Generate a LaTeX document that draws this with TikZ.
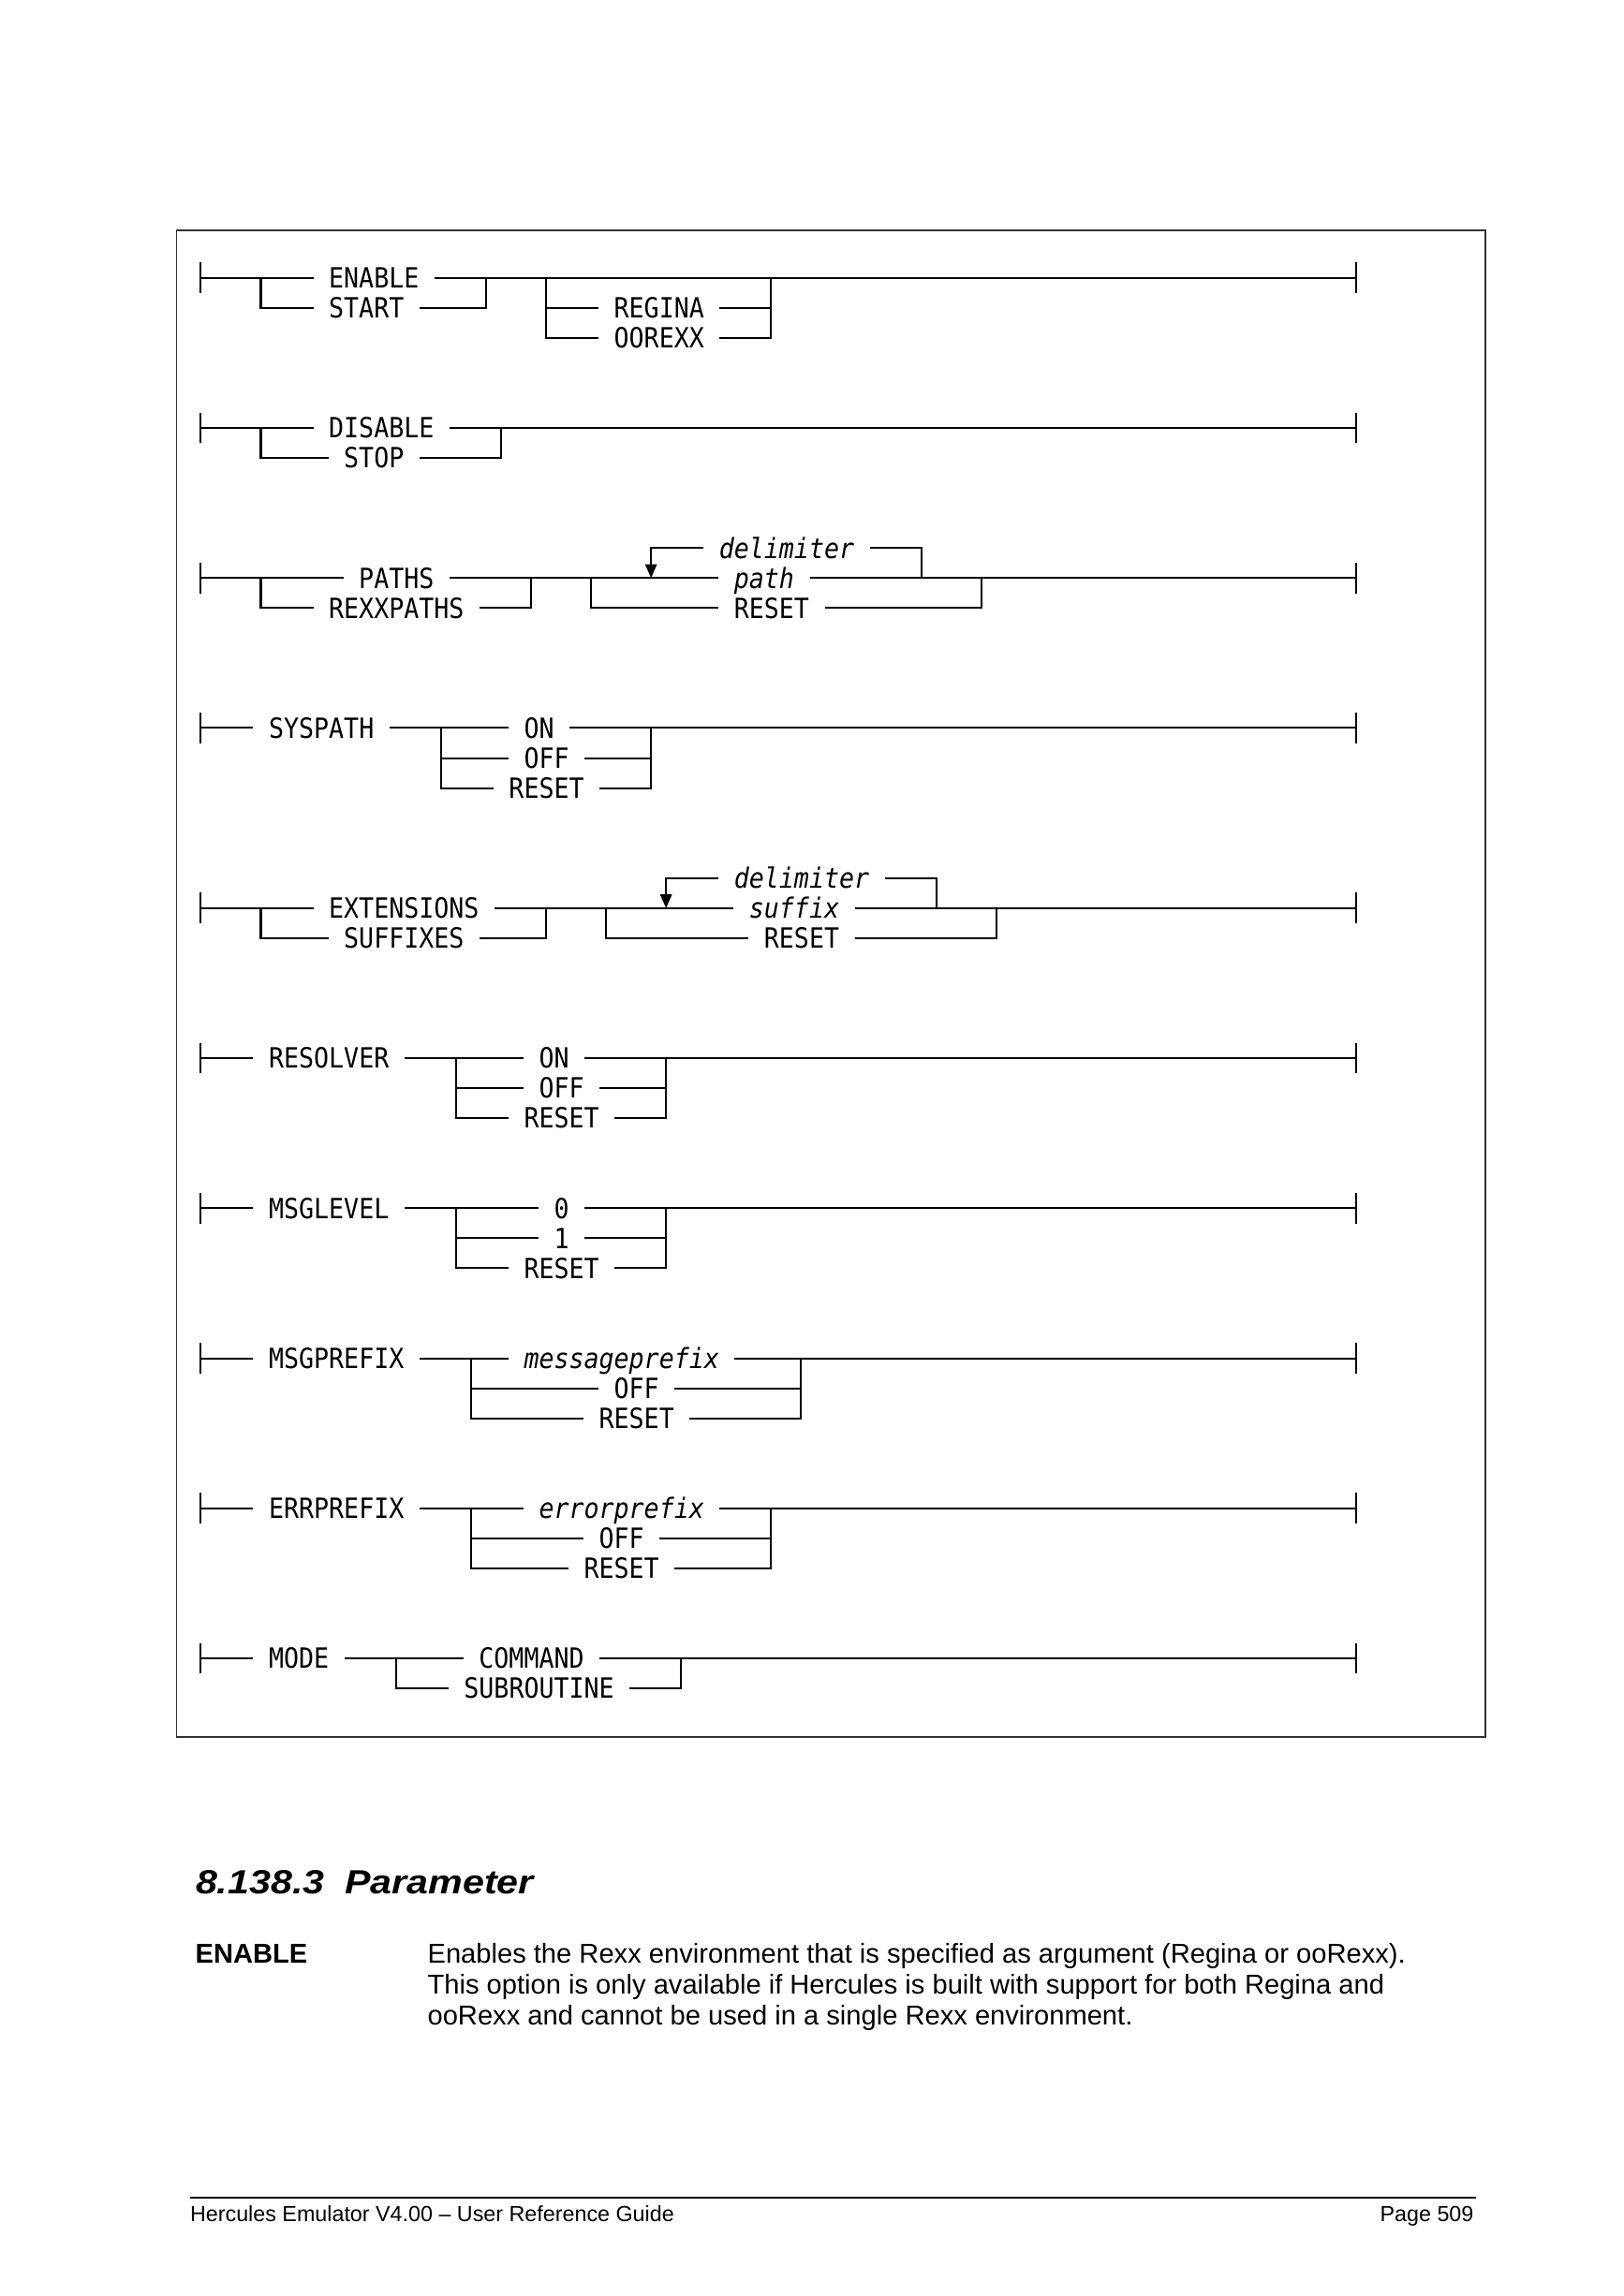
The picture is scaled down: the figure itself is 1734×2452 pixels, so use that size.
\documentclass[tikz,border=0pt]{standalone}
\usepackage{fontspec}
\setmainfont{Liberation Sans}
\newfontfamily\diagfont[FakeStretch=0.896]{DejaVu Sans Mono}
\newfontfamily\headfont[FakeStretch=1.15]{Liberation Sans}
\usetikzlibrary{arrows.meta}
\newcommand\cX[1]{{214.4+16.025*(#1)}}
\newcommand\rY[1]{{296.7+32.05*(#1)}}
\tikzset{
  rr/.style={line width=0.7pt, line join=miter},
  endtick/.style={line width=0.75pt},
  lbl/.style={font={\diagfont\fontsize{10.2pt}{12pt}\selectfont}, inner xsep=5.5014pt, inner ysep=0pt,
              text height=7.44pt, text depth=0pt, anchor=west},
  ilbl/.style={lbl, font={\diagfont\itshape\fontsize{10.2pt}{12pt}\selectfont}},
  loop/.style={rr, -{Triangle[length=5pt,width=4.2pt]}},
  frame/.style={line width=0.6pt, draw=black!80},
  bodytext/.style={font={\fontsize{10pt}{12pt}\selectfont}, inner sep=0pt, anchor=base west},
  foottext/.style={font={\fontsize{8pt}{10pt}\selectfont}, inner sep=0pt},
}
\newcommand\ticks[2]{%
  \draw[endtick] ([yshift=5.6pt]#1) -- ([yshift=-5.6pt]#1);
  \draw[endtick] ([yshift=5.6pt]#2) -- ([yshift=-5.6pt]#2);}
\begin{document}
\begin{tikzpicture}[x=0.3433pt, y=-0.3433pt]
\useasboundingbox (0,0) rectangle (1734,2452);
\fill[white] (0,0) rectangle (1734,2452);

% frame
\draw[frame] (188.5,245.7) rectangle (1585.7,1855);

% ---------- Row 1: ENABLE / START
\coordinate (s1) at (\cX{0},\rY{0});
\coordinate (e1) at (\cX{77},\rY{0});
\coordinate (j1a) at (\cX{4},\rY{0});
\coordinate (j1b) at (\cX{19},\rY{0});
\coordinate (j1c) at (\cX{23},\rY{0});
\coordinate (j1d) at (\cX{38},\rY{0});
\node[lbl] (enable) at (\cX{7.5},\rY{0}) {ENABLE};
\node[lbl] (start) at (\cX{7.5},\rY{1}) {START};
\node[lbl] (regina) at (\cX{26.5},\rY{1}) {REGINA};
\node[lbl] (oorexx) at (\cX{26.5},\rY{2}) {OOREXX};
\ticks{s1}{e1}
\draw[rr] (s1) -- (enable.west);
\draw[rr] (enable.east) -- (e1);
\draw[rr] (j1a) |- (start.west);
\draw[rr] (start.east) -| (j1b);
\draw[rr] (j1c) |- (regina.west);
\draw[rr] (j1c) |- (oorexx.west);
\draw[rr] (regina.east) -| (j1d);
\draw[rr] (oorexx.east) -| (j1d);

% ---------- Row 2: DISABLE / STOP
\coordinate (s2) at (\cX{0},\rY{5});
\coordinate (e2) at (\cX{77},\rY{5});
\coordinate (j2a) at (\cX{4},\rY{5});
\coordinate (j2b) at (\cX{20},\rY{5});
\node[lbl] (disable) at (\cX{7.5},\rY{5}) {DISABLE};
\node[lbl] (stop) at (\cX{8.5},\rY{6}) {STOP};
\ticks{s2}{e2}
\draw[rr] (s2) -- (disable.west);
\draw[rr] (disable.east) -- (e2);
\draw[rr] (j2a) |- (stop.west);
\draw[rr] (stop.east) -| (j2b);

% ---------- Row 3: PATHS
\coordinate (s3) at (\cX{0},\rY{10});
\coordinate (e3) at (\cX{77},\rY{10});
\coordinate (j3a) at (\cX{4},\rY{10});
\coordinate (j3b) at (\cX{22},\rY{10});
\coordinate (j3c) at (\cX{26},\rY{10});
\coordinate (a3) at (\cX{30},\rY{10});
\coordinate (j3d) at (\cX{48},\rY{10});
\coordinate (j3e) at (\cX{52},\rY{10});
\node[lbl] (paths) at (\cX{9.5},\rY{10}) {PATHS};
\node[lbl] (rexxpaths) at (\cX{7.5},\rY{11}) {REXXPATHS};
\node[ilbl] (path) at (\cX{34.5},\rY{10}) {path};
\node[lbl] (reset3) at (\cX{34.5},\rY{11}) {RESET};
\node[ilbl] (delim3) at (\cX{33.5},\rY{9}) {delimiter};
\ticks{s3}{e3}
\draw[rr] (s3) -- (paths.west);
\draw[rr] (paths.east) -- (path.west);
\draw[rr] (path.east) -- (e3);
\draw[rr] (j3a) |- (rexxpaths.west);
\draw[rr] (rexxpaths.east) -| (j3b);
\draw[rr] (j3c) |- (reset3.west);
\draw[rr] (reset3.east) -| (j3e);
\draw[rr] (j3d) |- (delim3.east);
\draw[loop] (delim3.west) -| (a3);

% ---------- Row 4: SYSPATH
\coordinate (s4) at (\cX{0},\rY{15});
\coordinate (e4) at (\cX{77},\rY{15});
\coordinate (j4a) at (\cX{16},\rY{15});
\coordinate (j4b) at (\cX{30},\rY{15});
\node[lbl] (syspath) at (\cX{3.5},\rY{15}) {SYSPATH};
\node[lbl] (on4) at (\cX{20.5},\rY{15}) {ON};
\node[lbl] (off4) at (\cX{20.5},\rY{16}) {OFF};
\node[lbl] (reset4) at (\cX{19.5},\rY{17}) {RESET};
\ticks{s4}{e4}
\draw[rr] (s4) -- (syspath.west);
\draw[rr] (syspath.east) -- (on4.west);
\draw[rr] (on4.east) -- (e4);
\draw[rr] (j4a) |- (off4.west);
\draw[rr] (j4a) |- (reset4.west);
\draw[rr] (off4.east) -| (j4b);
\draw[rr] (reset4.east) -| (j4b);

% ---------- Row 5: EXTENSIONS
\coordinate (s5) at (\cX{0},\rY{21});
\coordinate (e5) at (\cX{77},\rY{21});
\coordinate (j5a) at (\cX{4},\rY{21});
\coordinate (j5b) at (\cX{23},\rY{21});
\coordinate (j5c) at (\cX{27},\rY{21});
\coordinate (a5) at (\cX{31},\rY{21});
\coordinate (j5d) at (\cX{49},\rY{21});
\coordinate (j5e) at (\cX{53},\rY{21});
\node[lbl] (extensions) at (\cX{7.5},\rY{21}) {EXTENSIONS};
\node[lbl] (suffixes) at (\cX{8.5},\rY{22}) {SUFFIXES};
\node[ilbl] (suffix) at (\cX{35.5},\rY{21}) {suffix};
\node[lbl] (reset5) at (\cX{36.5},\rY{22}) {RESET};
\node[ilbl] (delim5) at (\cX{34.5},\rY{20}) {delimiter};
\ticks{s5}{e5}
\draw[rr] (s5) -- (extensions.west);
\draw[rr] (extensions.east) -- (suffix.west);
\draw[rr] (suffix.east) -- (e5);
\draw[rr] (j5a) |- (suffixes.west);
\draw[rr] (suffixes.east) -| (j5b);
\draw[rr] (j5c) |- (reset5.west);
\draw[rr] (reset5.east) -| (j5e);
\draw[rr] (j5d) |- (delim5.east);
\draw[loop] (delim5.west) -| (a5);

% ---------- Row 6: RESOLVER
\coordinate (s6) at (\cX{0},\rY{26});
\coordinate (e6) at (\cX{77},\rY{26});
\coordinate (j6a) at (\cX{17},\rY{26});
\coordinate (j6b) at (\cX{31},\rY{26});
\node[lbl] (resolver) at (\cX{3.5},\rY{26}) {RESOLVER};
\node[lbl] (on6) at (\cX{21.5},\rY{26}) {ON};
\node[lbl] (off6) at (\cX{21.5},\rY{27}) {OFF};
\node[lbl] (reset6) at (\cX{20.5},\rY{28}) {RESET};
\ticks{s6}{e6}
\draw[rr] (s6) -- (resolver.west);
\draw[rr] (resolver.east) -- (on6.west);
\draw[rr] (on6.east) -- (e6);
\draw[rr] (j6a) |- (off6.west);
\draw[rr] (j6a) |- (reset6.west);
\draw[rr] (off6.east) -| (j6b);
\draw[rr] (reset6.east) -| (j6b);

% ---------- Row 7: MSGLEVEL
\coordinate (s7) at (\cX{0},\rY{31});
\coordinate (e7) at (\cX{77},\rY{31});
\coordinate (j7a) at (\cX{17},\rY{31});
\coordinate (j7b) at (\cX{31},\rY{31});
\node[lbl] (msglevel) at (\cX{3.5},\rY{31}) {MSGLEVEL};
\node[lbl] (zero) at (\cX{22.5},\rY{31}) {0};
\node[lbl] (one) at (\cX{22.5},\rY{32}) {1};
\node[lbl] (reset7) at (\cX{20.5},\rY{33}) {RESET};
\ticks{s7}{e7}
\draw[rr] (s7) -- (msglevel.west);
\draw[rr] (msglevel.east) -- (zero.west);
\draw[rr] (zero.east) -- (e7);
\draw[rr] (j7a) |- (one.west);
\draw[rr] (j7a) |- (reset7.west);
\draw[rr] (one.east) -| (j7b);
\draw[rr] (reset7.east) -| (j7b);

% ---------- Row 8: MSGPREFIX
\coordinate (s8) at (\cX{0},\rY{36});
\coordinate (e8) at (\cX{77},\rY{36});
\coordinate (j8a) at (\cX{18},\rY{36});
\coordinate (j8b) at (\cX{40},\rY{36});
\node[lbl] (msgprefix) at (\cX{3.5},\rY{36}) {MSGPREFIX};
\node[ilbl] (msgpfx) at (\cX{20.5},\rY{36}) {messageprefix};
\node[lbl] (off8) at (\cX{26.5},\rY{37}) {OFF};
\node[lbl] (reset8) at (\cX{25.5},\rY{38}) {RESET};
\ticks{s8}{e8}
\draw[rr] (s8) -- (msgprefix.west);
\draw[rr] (msgprefix.east) -- (msgpfx.west);
\draw[rr] (msgpfx.east) -- (e8);
\draw[rr] (j8a) |- (off8.west);
\draw[rr] (j8a) |- (reset8.west);
\draw[rr] (off8.east) -| (j8b);
\draw[rr] (reset8.east) -| (j8b);

% ---------- Row 9: ERRPREFIX
\coordinate (s9) at (\cX{0},\rY{41});
\coordinate (e9) at (\cX{77},\rY{41});
\coordinate (j9a) at (\cX{18},\rY{41});
\coordinate (j9b) at (\cX{38},\rY{41});
\node[lbl] (errprefix) at (\cX{3.5},\rY{41}) {ERRPREFIX};
\node[ilbl] (errpfx) at (\cX{21.5},\rY{41}) {errorprefix};
\node[lbl] (off9) at (\cX{25.5},\rY{42}) {OFF};
\node[lbl] (reset9) at (\cX{24.5},\rY{43}) {RESET};
\ticks{s9}{e9}
\draw[rr] (s9) -- (errprefix.west);
\draw[rr] (errprefix.east) -- (errpfx.west);
\draw[rr] (errpfx.east) -- (e9);
\draw[rr] (j9a) |- (off9.west);
\draw[rr] (j9a) |- (reset9.west);
\draw[rr] (off9.east) -| (j9b);
\draw[rr] (reset9.east) -| (j9b);

% ---------- Row 10: MODE
\coordinate (s10) at (\cX{0},\rY{46});
\coordinate (e10) at (\cX{77},\rY{46});
\coordinate (j10a) at (\cX{13},\rY{46});
\coordinate (j10b) at (\cX{32},\rY{46});
\node[lbl] (mode) at (\cX{3.5},\rY{46}) {MODE};
\node[lbl] (command) at (\cX{17.5},\rY{46}) {COMMAND};
\node[lbl] (subroutine) at (\cX{16.5},\rY{47}) {SUBROUTINE};
\ticks{s10}{e10}
\draw[rr] (s10) -- (mode.west);
\draw[rr] (mode.east) -- (command.west);
\draw[rr] (command.east) -- (e10);
\draw[rr] (j10a) |- (subroutine.west);
\draw[rr] (subroutine.east) -| (j10b);

% ---------- Text below
\node[inner sep=0pt, anchor=base west, font={\headfont\bfseries\itshape\fontsize{12.3pt}{14pt}\selectfont}]
  (head) at (208.5,2022.5) {8.138.3\hspace{7.5pt}Parameter};
\node[bodytext, font={\bfseries\fontsize{10pt}{12pt}\selectfont}] (kw) at (208,2096) {ENABLE};
\node[bodytext] (p1) at (456,2096) {Enables the Rexx environment that is specified as argument (Regina or ooRexx).};
\node[bodytext] (p2) at (456,2129) {This option is only available if Hercules is built with support for both Regina and};
\node[bodytext] (p3) at (456,2162) {ooRexx and cannot be used in a single Rexx environment.};

% ---------- Footer
\coordinate (fl) at (202.5,2347);
\coordinate (fr) at (1576,2347);
\draw[line width=0.75pt] (fl) -- (fr);
\node[foottext, anchor=base west] (foot1) at (202.5,2372) {Hercules Emulator V4.00 -- User Reference Guide};
\node[foottext, anchor=base east] (foot2) at (1574,2372) {Page 509};
\end{tikzpicture}
\end{document}
